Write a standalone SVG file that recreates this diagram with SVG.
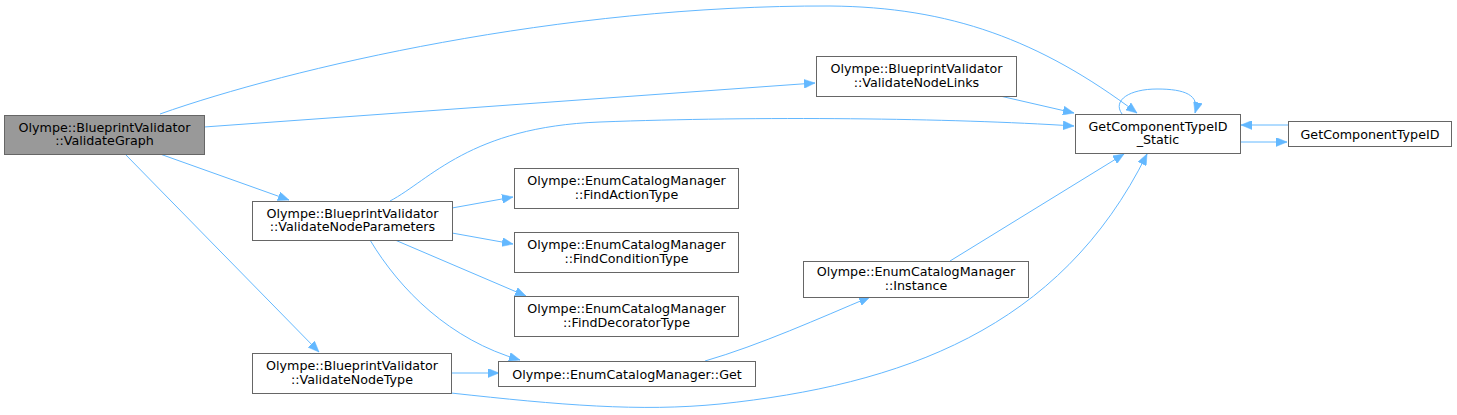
<svg xmlns="http://www.w3.org/2000/svg" width="1457" height="415" viewBox="0 0 1457 415">
<style>
.n rect{fill:#fff;stroke:#666;stroke-width:1}
.n.root rect{fill:#999}
.n text{font-family:"DejaVu Sans",sans-serif;font-size:12.7px;fill:#000;text-anchor:middle}
.e path{fill:none;stroke:#63b8ff;stroke-width:1;marker-end:url(#a)}
</style>
<defs>
<marker id="a" markerUnits="userSpaceOnUse" markerWidth="12" markerHeight="9" refX="11" refY="4.5" orient="auto">
<path d="M0,0 L11,4.5 L0,9 Z" fill="#63b8ff" stroke="#63b8ff" stroke-width="0.5"/>
</marker>
</defs>
<rect width="1457" height="415" fill="#fff"/>
<g id="edges" class="e">
<path d="M160,114 C290,68 560,5 830,6 C950,7 1040,40 1137,113"/>
<path d="M204,127 L815,83"/>
<path d="M160,154 L289,200"/>
<path d="M125,154 L319,352"/>
<path d="M1000,96 L1074,113"/>
<path d="M390,201 C430,180 470,127 600,122 C760,116 950,118 1074,126"/>
<path d="M452,208 L513,197"/>
<path d="M452,233 L513,244"/>
<path d="M395,240 L526,296"/>
<path d="M370,240 C400,290 450,340 520,360"/>
<path d="M451,373 L499,373"/>
<path d="M451,393 C560,405 640,412 720,404 C900,385 1060,330 1147,154"/>
<path d="M705,361 C760,345 820,318 870,297"/>
<path d="M950,261 L1124,154"/>
<path d="M1122,114 C1112,100 1130,89 1157,89 C1185,89 1200,95 1195,113"/>
<path d="M1240,142 L1287,142"/>
<path d="M1288,125 L1241,125"/>
</g>
<g id="n_validategraph" class="n root"><rect x="4.5" y="115.5" width="200" height="39"/><text x="104.5" y="131.5">Olympe::BlueprintValidator</text><text x="104.5" y="145">::ValidateGraph</text></g>
<g id="n_validatenodeparameters" class="n"><rect x="252.5" y="201.5" width="200" height="39"/><text x="352.5" y="217.5">Olympe::BlueprintValidator</text><text x="352.5" y="231">::ValidateNodeParameters</text></g>
<g id="n_validatenodetype" class="n"><rect x="252.5" y="353.5" width="199" height="40"/><text x="352" y="370">Olympe::BlueprintValidator</text><text x="352" y="383.5">::ValidateNodeType</text></g>
<g id="n_validatenodelinks" class="n"><rect x="816.5" y="56.5" width="200" height="40"/><text x="916.5" y="73">Olympe::BlueprintValidator</text><text x="916.5" y="86.5">::ValidateNodeLinks</text></g>
<g id="n_static" class="n"><rect x="1075.5" y="114.5" width="165" height="39"/><text x="1158" y="130.5">GetComponentTypeID</text><text x="1158" y="144">_Static</text></g>
<g id="n_getcomponenttypeid" class="n"><rect x="1288.5" y="121.5" width="163" height="25"/><text x="1370" y="138.5">GetComponentTypeID</text></g>
<g id="n_findactiontype" class="n"><rect x="514.5" y="168.5" width="224" height="40"/><text x="626.5" y="185">Olympe::EnumCatalogManager</text><text x="626.5" y="198.5">::FindActionType</text></g>
<g id="n_findconditiontype" class="n"><rect x="514.5" y="232.5" width="224" height="40"/><text x="626.5" y="249">Olympe::EnumCatalogManager</text><text x="626.5" y="262.5">::FindConditionType</text></g>
<g id="n_finddecoratortype" class="n"><rect x="514.5" y="296.5" width="224" height="40"/><text x="626.5" y="313">Olympe::EnumCatalogManager</text><text x="626.5" y="326.5">::FindDecoratorType</text></g>
<g id="n_instance" class="n"><rect x="803.5" y="261.5" width="225" height="36"/><text x="916" y="276">Olympe::EnumCatalogManager</text><text x="916" y="289.5">::Instance</text></g>
<g id="n_get" class="n"><rect x="498.5" y="361.5" width="257" height="25"/><text x="627" y="378.5">Olympe::EnumCatalogManager::Get</text></g>
</svg>
